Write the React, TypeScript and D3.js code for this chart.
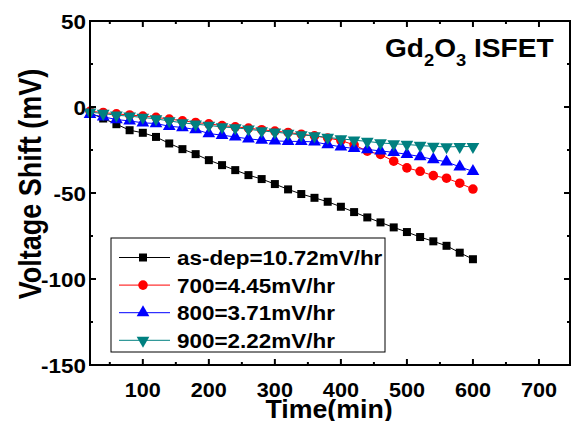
import * as d3 from "d3";
import type { ReactNode } from "react";

// time (min), sampled every 20 min
const times = [
  20, 40, 60, 80, 100, 120, 140, 160, 180, 200, 220, 240, 260, 280, 300,
  320, 340, 360, 380, 400, 420, 440, 460, 480, 500, 520, 540, 560, 580, 600,
];

const asDep = [
  -3.5, -6.7, -10.0, -13.5, -15.0, -17.4, -21.2, -24.5, -27.4, -30.9, -33.8,
  -36.7, -39.6, -41.9, -44.8, -47.9, -50.6, -52.8, -55.1, -58.0, -61.1, -64.2,
  -67.1, -70.0, -72.7, -75.6, -78.1, -80.7, -84.7, -88.5,
];
const t700 = [
  -2.5, -3.2, -4.0, -4.6, -5.3, -6.0, -7.0, -8.0, -9.0, -9.8, -10.8, -11.5,
  -12.3, -13.2, -14.0, -14.8, -15.8, -16.8, -18.0, -19.5, -22.0, -25.7, -27.6,
  -31.5, -35.4, -37.4, -39.9, -41.4, -44.3, -47.7,
];
const t800 = [
  -4.2, -5.7, -7.3, -8.1, -9.2, -9.6, -11.2, -11.9, -13.1, -15.4, -16.4, -17.4,
  -18.5, -19.3, -19.7, -20.0, -20.0, -20.3, -21.8, -23.2, -24.1, -24.7, -25.5,
  -26.4, -27.5, -28.8, -30.5, -31.9, -34.8, -37.4,
];
const t900 = [
  -3.0, -3.8, -4.8, -5.3, -6.1, -6.9, -8.1, -9.2, -10.0, -10.7, -11.6, -12.1,
  -12.9, -13.9, -14.6, -15.4, -16.2, -16.8, -17.7, -18.5, -19.3, -20.0, -20.9,
  -21.4, -21.8, -22.4, -22.9, -23.2, -23.0, -23.0,
];

const seriesNames = [
  "as-dep=10.72mV/hr",
  "700=4.45mV/hr",
  "800=3.71mV/hr",
  "900=2.22mV/hr",
];
const seriesValues = [asDep, t700, t800, t900];

const xTicks = [100, 200, 300, 400, 500, 600, 700];
const xMinor = [50, 150, 250, 350, 450, 550, 650];
const yTicks = [50, 0, -50, -100, -150];
const yMinor = [25, -25, -75, -125];

const colors = ["#000000", "#ff0000", "#0000ff", "#008080"];
const FONT = "'Liberation Sans', Arial, sans-serif";

const W = 571;
const H = 421;
const x = d3.scaleLinear().domain([20, 747]).range([90, 570]);
const y = d3.scaleLinear().domain([-150, 50]).range([365, 21]);

// marker shapes per series
const symbolPath = (i: number) => {
  if (i === 0) return d3.symbol(d3.symbolSquare, 64)()!;
  if (i === 1) return d3.symbol(d3.symbolCircle, 72)()!;
  return d3.symbol(d3.symbolTriangle, 70)()!;
};
const symbolRot = (i: number) => (i === 3 ? 180 : 0);

const Marker = ({ i, cx, cy }: { i: number; cx: number; cy: number }) => (
  <path
    d={symbolPath(i)}
    transform={`translate(${cx},${cy}) rotate(${symbolRot(i)})`}
    fill={colors[i]}
  />
);

// the reference text is a bit wider than plain Arial bold
const SText = ({
  x: tx,
  y: ty,
  size,
  sx = 1,
  anchor = "start",
  dy,
  children,
}: {
  x: number;
  y: number;
  size: number;
  sx?: number;
  anchor?: string;
  dy?: string;
  children: ReactNode;
}) => (
  <g transform={`translate(${tx},${ty}) scale(${sx},1)`}>
    <text textAnchor={anchor} fontSize={size} dy={dy}>
      {children}
    </text>
  </g>
);

export default function App() {
  const line = d3
    .line<number>()
    .x((_, k) => x(times[k]))
    .y((d) => y(d));

  const top = y.range()[1];
  const bottom = y.range()[0];
  const left = x.range()[0];
  const right = x.range()[1];

  const lg = { x: 111, y: 238, w: 274, h: 114, row: 27.6 };

  return (
    <svg
      width={W}
      height={H}
      style={{ position: "absolute", left: 0, top: 0, background: "#fff" }}
      fontFamily={FONT}
      fontWeight="bold"
    >
      {/* series */}
      {seriesValues.map((vals, i) => (
        <g key={i}>
          <path d={line(vals)!} fill="none" stroke={colors[i]} strokeWidth={1} />
          {vals.map((v, k) => (
            <Marker key={k} i={i} cx={x(times[k])} cy={y(v)} />
          ))}
        </g>
      ))}

      {/* frame */}
      <rect
        x={left}
        y={top}
        width={right - left}
        height={bottom - top}
        fill="none"
        stroke="#000"
        strokeWidth={2}
      />

      {/* x ticks */}
      {xTicks.map((t) => (
        <g key={"x" + t}>
          <line x1={x(t)} x2={x(t)} y1={bottom} y2={bottom - 6} stroke="#000" strokeWidth={2} />
          <line x1={x(t)} x2={x(t)} y1={top} y2={top + 6} stroke="#000" strokeWidth={2} />
          <SText x={x(t)} y={397} size={21} sx={1.03} anchor="middle">
            {t}
          </SText>
        </g>
      ))}
      {xMinor.map((t) => (
        <g key={"xm" + t}>
          <line x1={x(t)} x2={x(t)} y1={bottom} y2={bottom - 3} stroke="#000" strokeWidth={2} />
          <line x1={x(t)} x2={x(t)} y1={top} y2={top + 3} stroke="#000" strokeWidth={2} />
        </g>
      ))}

      {/* y ticks */}
      {yTicks.map((t) => (
        <g key={"y" + t}>
          <line x1={left} x2={left + 6} y1={y(t)} y2={y(t)} stroke="#000" strokeWidth={2} />
          <line x1={right} x2={right - 6} y1={y(t)} y2={y(t)} stroke="#000" strokeWidth={2} />
          <SText x={86} y={y(t)} size={21} sx={1.07} anchor="end" dy="0.36em">
            {t}
          </SText>
        </g>
      ))}
      {yMinor.map((t) => (
        <g key={"ym" + t}>
          <line x1={left} x2={left + 3} y1={y(t)} y2={y(t)} stroke="#000" strokeWidth={2} />
          <line x1={right} x2={right - 3} y1={y(t)} y2={y(t)} stroke="#000" strokeWidth={2} />
        </g>
      ))}

      {/* axis titles */}
      <SText x={(left + right) / 2 - 1} y={418} size={25} sx={1.07} anchor="middle">
        Time(min)
      </SText>
      <g transform={`translate(41,${(top + bottom) / 2 - 9}) rotate(-90) scale(1,1.15)`}>
        <text textAnchor="middle" fontSize={27}>
          Voltage Shift (mV)
        </text>
      </g>

      {/* title */}
      <SText x={385} y={57} size={26} sx={1.08}>
        Gd
        <tspan fontSize={17} dy={9}>2</tspan>
        <tspan dy={-9}>O</tspan>
        <tspan fontSize={17} dy={9}>3</tspan>
        <tspan dy={-9}> ISFET</tspan>
      </SText>

      {/* legend */}
      <rect x={lg.x} y={lg.y} width={lg.w} height={lg.h} fill="#fff" stroke="#000" strokeWidth={1} />
      {seriesNames.map((name, i) => {
        const cy = 257.5 + i * lg.row;
        return (
          <g key={name}>
            <line x1={119} x2={170} y1={cy} y2={cy} stroke={colors[i]} strokeWidth={1} />
            <Marker i={i} cx={143} cy={cy} />
            <SText x={177} y={cy} size={21} sx={1.07} dy="0.36em">
              {name}
            </SText>
          </g>
        );
      })}
    </svg>
  );
}
